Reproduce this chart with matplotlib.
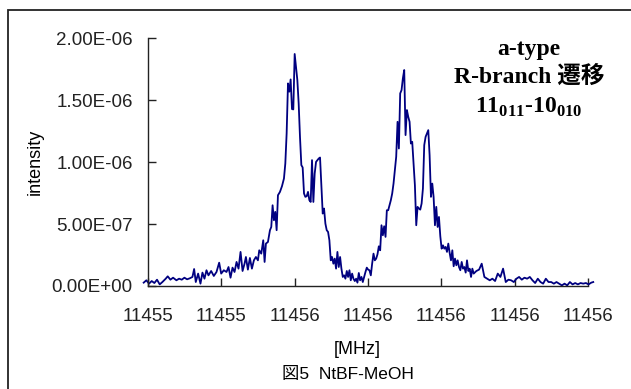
import matplotlib
matplotlib.use("Agg")
import matplotlib.pyplot as plt
from matplotlib.patches import Rectangle
from matplotlib.ticker import FormatStrFormatter, FuncFormatter

# spectrum: frequency [MHz] and intensity [x1e-6]
freq = [
    11455.1882, 11455.1955, 11455.2028, 11455.2101, 11455.2174, 11455.2246, 11455.2319, 11455.2392,
    11455.2483, 11455.2538, 11455.2611, 11455.2684, 11455.2775, 11455.2848, 11455.2921, 11455.2993,
    11455.3066, 11455.3139, 11455.3212, 11455.3258, 11455.3303, 11455.3367, 11455.3431, 11455.3485,
    11455.3540, 11455.3595, 11455.3649, 11455.3722, 11455.3795, 11455.3868, 11455.3941, 11455.3996,
    11455.4068, 11455.4141, 11455.4196, 11455.4251, 11455.4305, 11455.4360, 11455.4415, 11455.4469,
    11455.4524, 11455.4579, 11455.4633, 11455.4670, 11455.4724, 11455.4779, 11455.4834, 11455.4888,
    11455.4943, 11455.4998, 11455.5034, 11455.5089, 11455.5143, 11455.5180, 11455.5216, 11455.5271,
    11455.5326, 11455.5362, 11455.5398, 11455.5435, 11455.5471, 11455.5508, 11455.5544, 11455.5599,
    11455.5654, 11455.5708,
    11455.5745, 11455.5781, 11455.5818, 11455.5854, 11455.5890, 11455.5927, 11455.5963, 11455.6000,
    11455.6036, 11455.6073, 11455.6109, 11455.6145, 11455.6182, 11455.6218, 11455.6255, 11455.6291,
    11455.6328, 11455.6364, 11455.6401, 11455.6437, 11455.6473, 11455.6510, 11455.6546, 11455.6583,
    11455.6619, 11455.6656, 11455.6692, 11455.6729, 11455.6765, 11455.6801, 11455.6838, 11455.6874,
    11455.6911, 11455.6947, 11455.6984, 11455.7020, 11455.7056, 11455.7093, 11455.7129, 11455.7166,
    11455.7202, 11455.7239, 11455.7275, 11455.7312, 11455.7348, 11455.7384, 11455.7421, 11455.7457,
    11455.7494, 11455.7530, 11455.7567, 11455.7603, 11455.7640, 11455.7676, 11455.7712, 11455.7749,
    11455.7785, 11455.7822, 11455.7858, 11455.7895, 11455.7931, 11455.7967, 11455.8004, 11455.8040,
    11455.8077, 11455.8113, 11455.8150, 11455.8186, 11455.8223, 11455.8259, 11455.8295, 11455.8332,
    11455.8368, 11455.8405, 11455.8441, 11455.8478, 11455.8514, 11455.8551, 11455.8587, 11455.8623,
    11455.8660, 11455.8696, 11455.8733, 11455.8769, 11455.8806, 11455.8842, 11455.8878, 11455.8915,
    11455.8951, 11455.8988, 11455.9024, 11455.9061, 11455.9097, 11455.9134, 11455.9170, 11455.9206,
    11455.9243, 11455.9279, 11455.9316, 11455.9352, 11455.9389, 11455.9425, 11455.9462, 11455.9498,
    11455.9534, 11455.9571, 11455.9607, 11455.9644, 11455.9680, 11455.9717, 11455.9753, 11455.9789,
    11455.9826, 11455.9862, 11455.9899, 11455.9935, 11455.9972, 11456.0008, 11456.0045, 11456.0081,
    11456.0117, 11456.0154, 11456.0190, 11456.0227, 11456.0263, 11456.0300, 11456.0336, 11456.0373,
    11456.0409, 11456.0445, 11456.0482, 11456.0518, 11456.0555, 11456.0591, 11456.0628, 11456.0664,
    11456.0700, 11456.0737, 11456.0773, 11456.0810, 11456.0846, 11456.0883,
    11456.0956, 11456.1029, 11456.1101, 11456.1174, 11456.1247, 11456.1320, 11456.1393, 11456.1466,
    11456.1539, 11456.1611, 11456.1684, 11456.1757, 11456.1830, 11456.1903, 11456.1976, 11456.2049,
    11456.2121, 11456.2194, 11456.2267, 11456.2340, 11456.2413, 11456.2486, 11456.2559, 11456.2631,
    11456.2704, 11456.2777, 11456.2850, 11456.2923, 11456.2996, 11456.3069, 11456.3141, 11456.3214,
    11456.3287, 11456.3360, 11456.3433, 11456.3506, 11456.3579, 11456.3651, 11456.3724, 11456.3797,
    11456.3870, 11456.3943, 11456.4016, 11456.4089, 11456.4143,
]
intensity = [
    0.027, 0.046, 0.019, 0.040, 0.024, 0.051, 0.013, 0.032,
    0.059, 0.078, 0.051, 0.067, 0.046, 0.059, 0.051, 0.067,
    0.054, 0.062, 0.073, 0.137, 0.032, 0.100, 0.019, 0.108,
    0.059, 0.127, 0.086, 0.121, 0.081, 0.113, 0.188, 0.100,
    0.127, 0.113, 0.153, 0.067, 0.148, 0.113, 0.194, 0.140,
    0.275, 0.121, 0.180, 0.234, 0.132, 0.226, 0.140, 0.207,
    0.234, 0.207, 0.288, 0.261, 0.369, 0.194, 0.342, 0.355,
    0.450, 0.476, 0.651, 0.530, 0.598, 0.450, 0.732, 0.759,
    0.805, 0.867,
    0.988, 1.230, 1.634, 1.567, 1.666, 1.427, 1.424, 1.871,
    1.769, 1.661, 1.473, 1.203, 0.975, 0.956, 0.746, 0.719,
    0.724, 0.759, 0.692, 0.678, 1.015, 0.678, 0.907, 1.001,
    1.015, 1.028, 1.036, 0.800, 0.584, 0.625, 0.503, 0.450,
    0.436, 0.369, 0.207, 0.234, 0.180, 0.221, 0.140, 0.275,
    0.153, 0.234, 0.140, 0.073, 0.086, 0.059, 0.121, 0.073,
    0.127, 0.046, 0.100, 0.059, 0.040, 0.059, 0.027, 0.105,
    0.046, 0.073, 0.032, 0.073, 0.113, 0.148, 0.132, 0.127,
    0.086, 0.180, 0.261, 0.207, 0.221, 0.256, 0.320, 0.288,
    0.490, 0.409, 0.482, 0.396, 0.611, 0.611, 0.651, 0.692,
    0.746, 0.826, 0.934, 1.042, 1.324, 1.109, 1.553, 1.580,
    1.674, 1.742, 1.217, 1.419, 1.365, 1.324, 1.149, 1.163,
    0.988, 0.813, 0.490, 0.638, 0.625, 0.616, 0.665, 0.786,
    1.136, 1.203, 1.230, 1.257, 1.055, 0.719, 0.826, 0.719,
    0.490, 0.638, 0.476, 0.557, 0.401, 0.301, 0.328, 0.301,
    0.315, 0.275, 0.342, 0.267, 0.207, 0.288, 0.159, 0.221,
    0.167, 0.207, 0.153, 0.127, 0.194, 0.140, 0.153, 0.108,
    0.207, 0.121, 0.140, 0.073, 0.140, 0.100,
    0.121, 0.132, 0.180, 0.073, 0.059, 0.046, 0.059, 0.040,
    0.100, 0.073, 0.140, 0.032, 0.051, 0.046, 0.032, 0.059,
    0.073, 0.051, 0.067, 0.059, 0.073, 0.046, 0.024, 0.059,
    0.032, 0.019, 0.059, 0.032, 0.032, 0.019, 0.032, 0.019,
    0.005, 0.019, 0.005, 0.032, 0.013, 0.024, 0.013, 0.024,
    0.019, 0.024, 0.013, 0.027, 0.032,
]

x_ticks = [11455.2, 11455.4, 11455.6, 11455.8, 11456.0, 11456.2, 11456.4]
y_ticks = [0, 0.5e-6, 1.0e-6, 1.5e-6, 2.0e-6]

plt.rcParams['font.family'] = ['Liberation Sans', 'Noto Sans CJK JP']
plt.rcParams['mathtext.fontset'] = 'custom'
plt.rcParams['mathtext.rm'] = 'Liberation Serif'
plt.rcParams['mathtext.bf'] = 'Liberation Serif:bold'

fig = plt.figure(figsize=(6.31, 3.89), dpi=100)
ax = fig.add_axes([148/631, 1-286/389, 440/631, 248/389])

ax.plot(freq, [v*1e-6 for v in intensity], color='#000080', lw=1.3, clip_on=False)

ax.set_xlim(11455.2, 11456.4)
ax.set_ylim(0, 2e-6)
ax.set_xticks(x_ticks)
ax.set_yticks(y_ticks)
ax.xaxis.set_major_formatter(FormatStrFormatter('%.0f'))
ax.yaxis.set_major_formatter(FuncFormatter(lambda v, p: '%.2E' % v))
ax.tick_params(direction='in', length=6, width=1, labelsize=13.5, colors='#222222')
ax.tick_params(axis='y', pad=11)
ax.tick_params(axis='x', pad=16)
for s in ['top', 'right']:
    ax.spines[s].set_visible(False)
for s in ['left', 'bottom']:
    ax.spines[s].set_color('#222222')
    ax.spines[s].set_linewidth(1)

fig.text(35/631, 1-162/389, 'intensity', rotation=90, ha='center', va='center', fontsize=13)
fig.text(357/631, 1-350/389, '[MHz]', ha='center', va='center', fontsize=13)
fig.text(348/631, 1-374/389, '図5  NtBF-MeOH', ha='center', va='center', fontsize=12.5)

serif = ['Liberation Serif', 'Noto Sans CJK JP']
fig.text(529/631, 1-50/389, 'a-type', ha='center', va='center', fontsize=17,
         fontweight='bold', family=serif)
fig.text(529/631, 1-77/389, 'R-branch 遷移', ha='center', va='center', fontsize=17,
         fontweight='bold', family=serif)
fig.text(529/631, 1-107/389, r'$\mathbf{11}_{\mathbf{011}}\mathbf{\text{-}10}_{\mathbf{010}}$',
         ha='center', va='center', fontsize=17)

# frame around the whole picture
fig.patches.append(Rectangle((8/631, -0.1), 1.0, 1.1-10/389, transform=fig.transFigure,
                             fill=False, edgecolor='#222222', lw=1.3))

fig.savefig('out.png', dpi=100)
